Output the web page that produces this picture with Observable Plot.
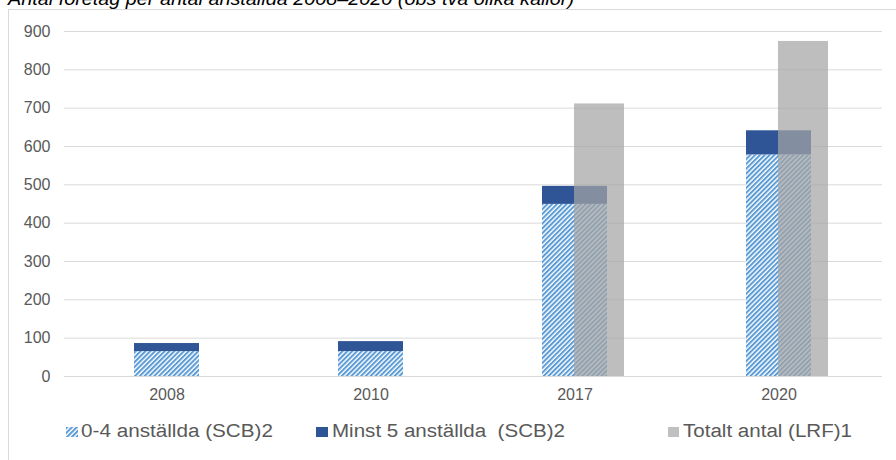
<!DOCTYPE html>
<html><head><meta charset="utf-8">
<script src="https://cdn.jsdelivr.net/npm/d3@7"></script>
<script src="https://cdn.jsdelivr.net/npm/@observablehq/plot@0.6"></script>
<style>
html,body{margin:0;padding:0;background:#fff;overflow:hidden;}
#wrap{position:relative;width:896px;height:460px;overflow:hidden;background:#fff;font-family:"Liberation Sans",Arial,sans-serif;}
#frame{position:absolute;left:8px;top:9px;width:1000px;height:1000px;border:1px solid #d9d9d9;box-sizing:border-box;}
#title{position:absolute;left:8px;top:-10.6px;font-size:17.6px;line-height:20px;font-style:italic;color:#000;white-space:nowrap;transform-origin:0 0;}
#chart{position:absolute;left:0;top:0;}
.sw{position:absolute;top:427px;width:12px;height:10px;}
.lt{position:absolute;top:421.4px;font-size:17.6px;line-height:20px;color:#595959;white-space:pre;transform-origin:0 0;}
</style></head>
<body>
<svg width="0" height="0" style="position:absolute">
  <defs>
    <pattern id="hatch" patternUnits="userSpaceOnUse" width="3.4" height="3.4" patternTransform="rotate(45)">
      <rect width="3.4" height="3.4" fill="#ffffff"/>
      <rect width="2" height="3.4" fill="#5B9BD5"/>
    </pattern>
  </defs>
</svg>
<div id="wrap">
  <div id="frame"></div>
  <div id="title" data-w="566">Antal företag per antal anställda 2008–2020 (obs två olika källor)</div>
  <div id="chart"></div>
  <svg class="sw" style="left:66px" width="12" height="10"><rect width="12" height="10" fill="url(#hatch)"/></svg>
  <div class="lt" style="left:80.7px" data-w="192">0-4 anställda (SCB)2</div>
  <svg class="sw" style="left:316px" width="12" height="10"><rect width="12" height="10" fill="#2F5597"/></svg>
  <div class="lt" style="left:331.7px" data-w="233">Minst 5 anställda  (SCB)2</div>
  <svg class="sw" style="left:668px" width="11" height="10"><rect width="11" height="10" fill="#c0c0c0"/></svg>
  <div class="lt" style="left:683px" data-w="169">Totalt antal (LRF)1</div>
</div>
<script>
const years = ["2008", "2010", "2017", "2020"];
const smallFirms = [65, 65, 449, 578];   // 0-4 anställda (SCB)
const largeFirms = [21, 26, 47, 63];     // Minst 5 anställda (SCB)
const totalLRF = [null, null, 711, 874]; // Totalt antal (LRF)
const yTicks = [0, 100, 200, 300, 400, 500, 600, 700, 800, 900];

const rows = years.map((y, i) => ({year: y, small: smallFirms[i], large: largeFirms[i], total: totalLRF[i]}));

const chart = Plot.plot({
  width: 896,
  height: 410,
  marginLeft: 64,
  marginRight: 14,
  marginTop: 31,
  marginBottom: 34,
  style: {fontFamily: "Liberation Sans, Arial, sans-serif", fontSize: "16px", color: "#595959", background: "transparent", overflow: "visible"},
  x: {domain: years, paddingInner: 0.68, paddingOuter: 0.34, label: null},
  y: {domain: [0, 900], ticks: yTicks, label: null},
  marks: [
    Plot.gridY(yTicks, {stroke: "#d9d9d9", strokeOpacity: 1, strokeWidth: 1}),
    Plot.axisY(yTicks, {tickSize: 0, tickPadding: 14, label: null}),
    Plot.axisX({tickSize: 0, tickPadding: 12, label: null}),
    Plot.barY(rows, {x: "year", y1: 0, y2: "small", fill: "url(#hatch)"}),
    Plot.barY(rows, {x: "year", y1: "small", y2: d => d.small + d.large, fill: "#2F5597"}),
    Plot.barY(rows.filter(d => d.total != null), {x: "year", y: "total", fill: "#a5a5a5", fillOpacity: 0.72, dx: 17, insetLeft: 15})
  ]
});
document.getElementById("chart").appendChild(chart);

document.querySelectorAll("[data-w]").forEach(el => {
  const w = el.getBoundingClientRect().width;
  const target = +el.dataset.w;
  if (w > 0) el.style.transform = `scaleX(${target / w})`;
});
</script>
</body></html>
